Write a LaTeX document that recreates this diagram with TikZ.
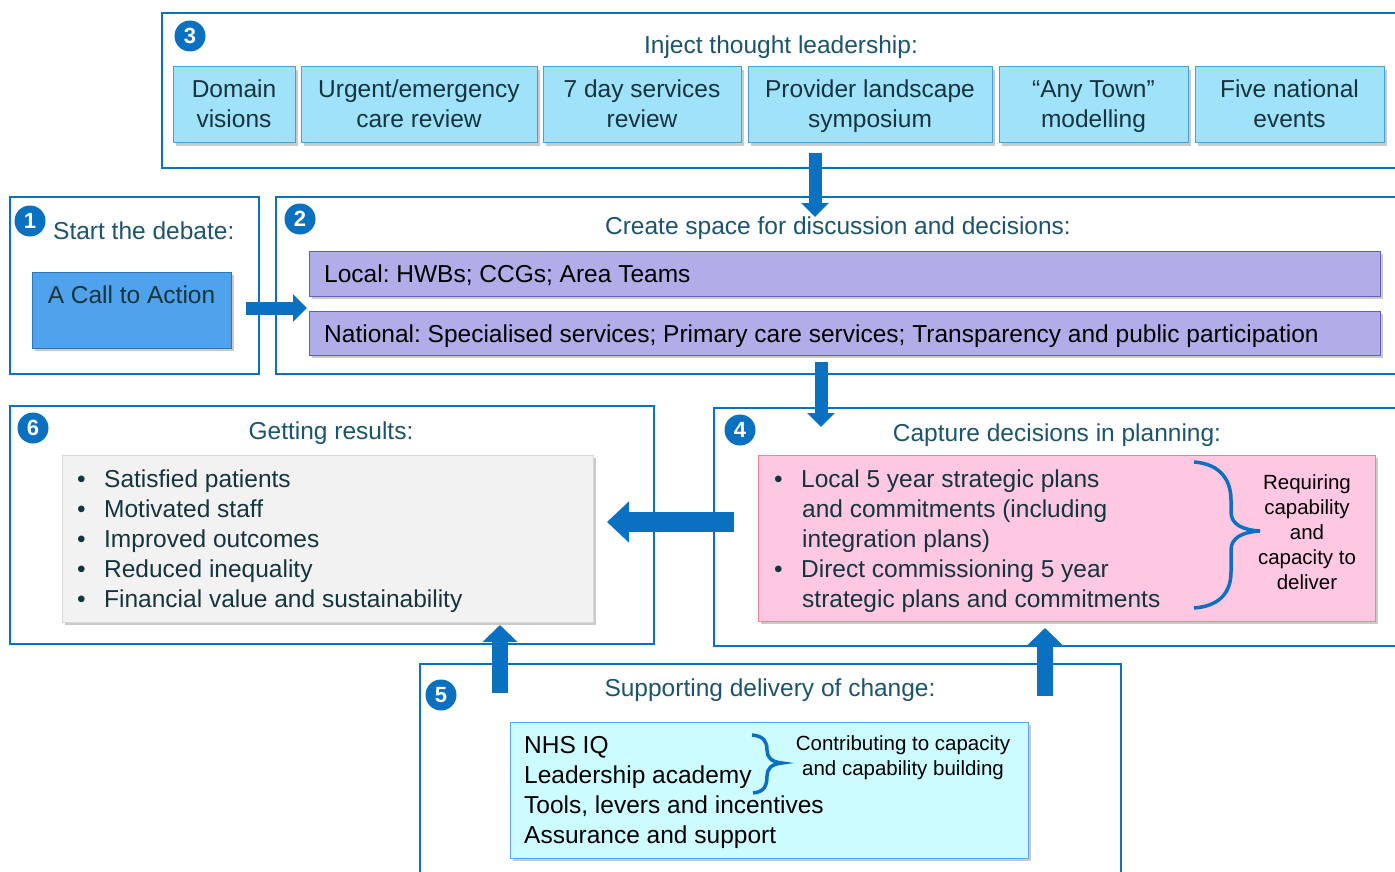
\documentclass[tikz,border=0pt]{standalone}
\usepackage{fontspec}
\setmainfont{Liberation Sans}
\usetikzlibrary{arrows.meta,shadows}
\frenchspacing
\definecolor{fblue}{RGB}{10,112,192}
\definecolor{titlec}{RGB}{27,84,108}
\definecolor{bodyc}{RGB}{22,52,62}
\definecolor{topfill}{RGB}{160,226,250}
\definecolor{topdraw}{RGB}{70,160,220}
\definecolor{ctafill}{RGB}{78,163,236}
\definecolor{ctadraw}{RGB}{46,117,182}
\definecolor{lavfill}{RGB}{177,173,232}
\definecolor{lavdraw}{RGB}{100,95,180}
\definecolor{greyfill}{RGB}{242,242,242}
\definecolor{greydraw}{RGB}{215,215,215}
\definecolor{pinkfill}{RGB}{255,200,226}
\definecolor{pinkdraw}{RGB}{240,130,140}
\definecolor{cyanfill}{RGB}{204,252,255}
\definecolor{cyandraw}{RGB}{90,170,235}
\newcommand\mybig{\fontsize{24.5}{30}\selectfont}
\newcommand\mysmall{\fontsize{20.5}{25}\selectfont}
\begin{document}
\begin{tikzpicture}[x=1pt,y=-1pt,
  frame/.style={draw=fblue, line width=2.6pt, rectangle, inner sep=0pt},
  sbox/.style={rectangle, inner sep=0pt, line width=1pt,
    drop shadow={shadow xshift=3pt, shadow yshift=-3pt, opacity=0.35, fill=black!60}},
  num/.style={circle, fill=fblue, text=white, inner sep=0pt, minimum size=31pt,
    font=\fontsize{22}{22}\selectfont\bfseries},
  ttl/.style={text=titlec, font=\mybig, inner sep=0pt, anchor=base},
  txt/.style={font=\mybig, inner sep=0pt, anchor=base},
  stxt/.style={font=\mysmall, inner sep=0pt, anchor=base},
  brace/.style={draw=fblue, line width=3.5pt},
  barr/.style={draw=fblue, line width=13pt, -{Triangle[length=14pt, width=27pt]}},
  warr/.style={draw=fblue, line width=20pt, -{Triangle[length=22pt, width=40pt]}},
  uarr/.style={draw=fblue, line width=16pt, -{Triangle[length=17pt, width=34pt]}},
]
\useasboundingbox (0,0) rectangle (1395,872);
\clip (0,0) rectangle (1395,872);

% frames
\node[frame, minimum width=1240pt, minimum height=155pt] (F3) at (782,90.5) {};
\node[frame, minimum width=249pt, minimum height=177pt] (F1) at (134.5,285.5) {};
\node[frame, minimum width=1126pt, minimum height=177pt] (F2) at (839,285.5) {};
\node[frame, minimum width=644pt, minimum height=238pt] (F6) at (332,525) {};
\node[frame, minimum width=688pt, minimum height=238pt] (F4) at (1058,527) {};
\node[frame, minimum width=701pt, minimum height=220pt] (F5) at (770.5,774) {};

% number circles
\node[num] (n3) at (190,36) {3};
\node[num] (n1) at (30,221) {1};
\node[num] (n2) at (300,219) {2};
\node[num] (n6) at (33,428) {6};
\node[num] (n4) at (740,430) {4};
\node[num] (n5) at (441,695) {5};

% titles
\node[ttl] (t3) at (781,54) {Inject thought leadership:};
\node[ttl, anchor=base west] (t1) at (53,239) {Start the debate:};
\node[ttl] (t2) at (838,234) {Create space for discussion and decisions:};
\node[ttl] (t6) at (331,439) {Getting results:};
\node[ttl] (t4) at (1057,441) {Capture decisions in planning:};
\node[ttl] (t5) at (770,696) {Supporting delivery of change:};

% top boxes
\foreach \nm/\cx/\w/\a/\b in {b1/234/122/Domain/visions,
  b2/419/236/Urgent\slash emergency/care review,
  b3/642/198/7 day services/review,
  b4/870/244/Provider landscape/symposium,
  b5/1093.5/189/“Any Town”/modelling,
  b6/1289.5/189/Five national/events}{
  \node[sbox, draw=topdraw, fill=topfill, minimum width=\w pt, minimum height=76pt] (\nm) at (\cx,105) {};
  \node[txt, text=bodyc] (\nm t) at (\cx,98) {\begin{tabular}[t]{@{}c@{}}\a\\\b\end{tabular}};
}

% call to action
\node[sbox, draw=ctadraw, fill=ctafill, minimum width=199pt, minimum height=76pt] (cta) at (131.5,310) {};
\node[txt, text=bodyc] (ctat) at (131.5,303) {A Call to Action};

% local / national
\node[sbox, draw=lavdraw, fill=lavfill, minimum width=1071pt, minimum height=45pt] (loc) at (844.5,273.5) {};
\node[txt, anchor=base west, text=black] (loct) at (324,282) {Local: HWBs; CCGs; Area Teams};
\node[sbox, draw=lavdraw, fill=lavfill, minimum width=1071pt, minimum height=44pt] (nat) at (844.5,333) {};
\node[txt, anchor=base west, text=black] (natt) at (324,342) {National: Specialised services; Primary care services; Transparency and public participation};

% getting results
\node[sbox, draw=greydraw, fill=greyfill, minimum width=531pt, minimum height=167pt] (grey) at (327.5,538.5) {};
\node[txt, anchor=base west, text=bodyc] (greyt) at (77,487) {\begin{tabular}[t]{@{}l@{}}
\makebox[27pt][l]{\textbullet}Satisfied patients\\
\makebox[27pt][l]{\textbullet}Motivated staff\\
\makebox[27pt][l]{\textbullet}Improved outcomes\\
\makebox[27pt][l]{\textbullet}Reduced inequality\\
\makebox[27pt][l]{\textbullet}Financial value and sustainability\end{tabular}};

% capture decisions
\node[sbox, draw=pinkdraw, fill=pinkfill, minimum width=617pt, minimum height=166pt] (pink) at (1066.5,538) {};
\node[txt, anchor=base west, text=bodyc] (pinkt) at (774,487) {\begin{tabular}[t]{@{}l@{}}
\makebox[27pt][l]{\textbullet}Local 5 year strategic plans\\
\makebox[28pt][l]{}and commitments (including\\
\makebox[28pt][l]{}integration plans)\\
\makebox[27pt][l]{\textbullet}Direct commissioning 5 year\\
\makebox[28pt][l]{}strategic plans and commitments\end{tabular}};
\draw[brace] (1194,462) .. controls (1222,464) and (1231,482) .. (1231,500)
  -- (1231,512) .. controls (1231,524) and (1242,530) .. (1260,531)
  .. controls (1242,532) and (1231,538) .. (1231,550)
  -- (1231,572) .. controls (1231,590) and (1222,606) .. (1194,608);
\node[stxt, text=black] (req) at (1307,489.5) {\begin{tabular}[t]{@{}c@{}}Requiring\\capability\\and\\capacity to\\deliver\end{tabular}};

% supporting delivery
\node[sbox, draw=cyandraw, fill=cyanfill, minimum width=518pt, minimum height=136pt] (cyan) at (769,790) {};
\node[txt, anchor=base west, text=black] (cyant) at (524,753) {\begin{tabular}[t]{@{}l@{}}
NHS IQ\\Leadership academy\\Tools, levers and incentives\\Assurance and support\end{tabular}};
\draw[brace, line width=3.5pt] (752,735) .. controls (764,736) and (767,742) .. (767,750)
  .. controls (767,757) and (771,762) .. (782,763)
  .. controls (771,764) and (767,769) .. (767,776)
  .. controls (767,786) and (764,792) .. (753,793);
\node[stxt, text=black] (contr) at (903,750.5) {\begin{tabular}[t]{@{}c@{}}Contributing to capacity\\and capability building\end{tabular}};

% arrows
\coordinate (a1s) at (246,308); \coordinate (a1e) at (307,308);
\coordinate (a2s) at (815,153); \coordinate (a2e) at (815,217);
\coordinate (a3s) at (821,362); \coordinate (a3e) at (821,427);
\coordinate (a4s) at (734,522); \coordinate (a4e) at (607,522);
\coordinate (a5s) at (500,693); \coordinate (a5e) at (500,625);
\coordinate (a6s) at (1045,696); \coordinate (a6e) at (1045,628);
\draw[barr] (a1s) -- (a1e);
\draw[barr] (a2s) -- (a2e);
\draw[barr] (a3s) -- (a3e);
\draw[warr] (a4s) -- (a4e);
\draw[uarr] (a5s) -- (a5e);
\draw[uarr] (a6s) -- (a6e);
\end{tikzpicture}
\end{document}
